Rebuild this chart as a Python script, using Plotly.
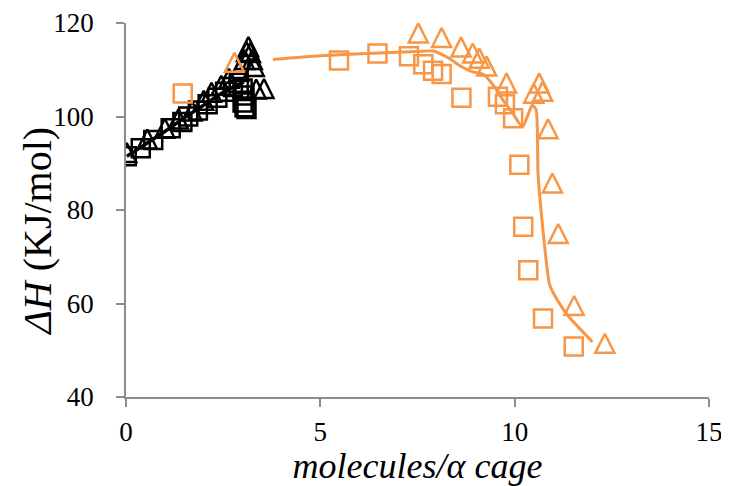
import plotly.graph_objects as go

# ---- data ----
black_sq_x = [0.02, 0.38, 0.70, 1.15, 1.45, 1.60, 1.85, 2.10, 2.35, 2.55, 2.75, 2.90, 3.00, 3.05, 3.00, 3.05, 3.10]
black_sq_y = [91.5, 93.2, 95.0, 97.5, 98.8, 100.0, 101.3, 102.6, 104.0, 105.3, 106.3, 107.2, 106.0, 104.5, 103.0, 102.0, 101.6]

black_tri_x = [0.02, 0.55, 1.00, 1.35, 1.70, 2.00, 2.20, 2.45, 2.65, 2.90, 3.05, 3.10, 3.15, 3.20, 3.25, 3.30, 3.35, 3.55]
black_tri_y = [91.6, 94.5, 96.8, 98.8, 100.5, 102.8, 104.5, 106.0, 107.5, 109.0, 111.5, 113.2, 114.3, 113.0, 111.5, 110.0, 105.2, 105.3]

black_line_x = [0.02, 0.5, 1.0, 1.5, 2.0, 2.5, 2.8, 3.0, 3.1, 3.2]
black_line_y = [91.5, 94.0, 96.8, 99.7, 102.5, 105.2, 106.5, 107.3, 109.0, 112.5]

orange_sq_x = [1.46, 5.48, 6.47, 7.28, 7.65, 7.90, 8.12, 8.63, 9.57, 9.75, 9.96, 10.12, 10.22, 10.35, 10.73, 11.52]
orange_sq_y = [104.9, 112.0, 113.5, 112.9, 111.2, 109.8, 109.1, 104.0, 104.2, 102.6, 99.6, 89.7, 76.4, 67.1, 56.8, 50.8]

orange_tri_x = [2.79, 7.52, 8.12, 8.62, 8.92, 9.09, 9.28, 9.79, 10.49, 10.63, 10.72, 10.86, 10.97, 11.12, 11.53, 12.32]
orange_tri_y = [110.9, 117.2, 116.2, 114.2, 112.9, 111.8, 110.1, 106.5, 104.3, 106.5, 104.7, 96.7, 85.1, 74.3, 58.9, 50.8]

orange_line_x = [3.78, 5.0, 6.5, 7.5, 7.9, 8.3, 8.6, 8.9, 9.2, 9.45, 9.7, 9.95, 10.2, 10.35, 10.45, 10.55, 10.6, 10.7, 10.8, 10.9, 11.1, 11.4, 12.0]
orange_line_y = [112.2, 113.0, 113.6, 113.9, 114.0, 112.5, 110.8, 109.6, 109.0, 106.7, 103.5, 100.7, 97.8, 100.5, 102.4, 101.5, 88.0, 78.0, 70.0, 64.0, 60.7, 57.1, 51.8]

x_ticks = [0, 5, 10, 15]
y_ticks = [40, 60, 80, 100, 120]

ORANGE = "rgb(247,150,70)"
BLACK = "black"
FONT = "Liberation Serif"

fig = go.Figure()

def sq(x, y, c):
    return go.Scatter(x=x, y=y, mode="markers", showlegend=False, hoverinfo="skip",
                      marker=dict(symbol="square-open", size=18, color=c, line=dict(width=2.5, color=c)))

def tri(x, y, c):
    # tall triangle: arrow shape turned upward, shifted so its centroid sits on the data point
    return go.Scatter(x=x, y=y, mode="markers", showlegend=False, hoverinfo="skip",
                      marker=dict(symbol="arrow-down-open", size=19, angle=180, standoff=12.7, color=c,
                                  line=dict(width=2.5, color=c)))

fig.add_trace(sq(black_sq_x, black_sq_y, BLACK))
fig.add_trace(tri(black_tri_x, black_tri_y, BLACK))
fig.add_trace(sq(orange_sq_x, orange_sq_y, ORANGE))
fig.add_trace(tri(orange_tri_x, orange_tri_y, ORANGE))
fig.add_trace(go.Scatter(x=black_line_x, y=black_line_y, mode="lines", showlegend=False,
                         line=dict(color=BLACK, width=3.5)))
fig.add_trace(go.Scatter(x=orange_line_x, y=orange_line_y, mode="lines", showlegend=False,
                         line=dict(color=ORANGE, width=3, shape="spline", smoothing=0.6)))

axis_common = dict(showgrid=False, zeroline=False, showline=True, linecolor="#8c8c8c", linewidth=1.5,
                   ticks="outside", ticklen=8, tickwidth=1.5, tickcolor="#8c8c8c",
                   tickfont=dict(family=FONT, size=27, color="black"))

fig.update_xaxes(range=[0, 15], tickvals=x_ticks, ticktext=[str(v) for v in x_ticks],
                 title=dict(text="<i>molecules/α cage</i>", font=dict(family=FONT, size=36, color="black"),
                            standoff=0),
                 ticklabelstandoff=2, **axis_common)
fig.update_yaxes(range=[40, 120], tickvals=y_ticks, ticktext=[str(v) for v in y_ticks],
                 ticklabelstandoff=17, **axis_common)

fig.add_annotation(text="<i>ΔH</i> (KJ/mol)", xref="paper", yref="paper", x=-0.152, y=0.443,
                   xanchor="center", yanchor="middle", textangle=-90, showarrow=False,
                   font=dict(family=FONT, size=40, color="black"))

fig.update_layout(width=721, height=478, plot_bgcolor="white", paper_bgcolor="white",
                  margin=dict(l=118, r=19.7, t=14.7, b=89.3, autoexpand=False))

fig.write_html("out.html")
